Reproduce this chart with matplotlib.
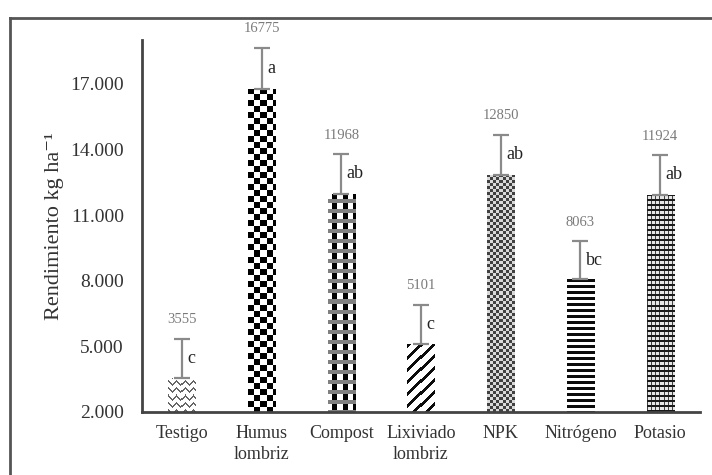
import numpy as np
import matplotlib
matplotlib.use("Agg")
import matplotlib.pyplot as plt
from matplotlib.lines import Line2D
from matplotlib.ticker import FixedLocator, FuncFormatter

categories = ["Testigo", "Humus\nlombriz", "Compost", "Lixiviado\nlombriz",
              "NPK", "Nitrógeno", "Potasio"]
yields = [3555, 16775, 11968, 5101, 12850, 8063, 11924]
errors = [1800, 1880, 1820, 1810, 1810, 1740, 1820]
groups = ["c", "a", "ab", "c", "ab", "bc", "ab"]
yticks = [2000, 5000, 8000, 11000, 14000, 17000]

plt.rcParams["font.family"] = ["Liberation Serif", "DejaVu Serif"]

fig = plt.figure(figsize=(7.12, 4.75), dpi=100)
ax = fig.add_axes([142 / 712, 63 / 475, 558 / 712, 372 / 475])
ax.set_xlim(-0.5, len(categories) - 0.5)
ax.set_ylim(2000, 19000)

x = np.arange(len(categories))
bars = ax.bar(x, np.array(yields) - 2000, bottom=2000, width=0.34,
              color="white", edgecolor="none", zorder=2)


def pattern(kind, h, w):
    r, c = np.mgrid[0:h, 0:w]
    img = np.ones((h, w))
    if kind == "waves":
        tri = np.abs((c % 8) - 4)
        img[((r + tri) % 7) < 2] = 0.4
    elif kind == "checker":
        img = ((r // 6 + c // 6) % 2).astype(float)
    elif kind == "plaid":
        img[((c % 10) >= 4) & ((c % 10) <= 8) & ((r % 10) <= 5)] = 0.0
        img[(r % 10) >= 6] = 0.5
    elif kind == "diag":
        img[((r + c) % 12) < 4] = 0.05
    elif kind == "fine":
        img = np.where(((r // 3 + c // 3) % 2) == 0, 0.25, 0.85)
    elif kind == "hlines":
        img[(r % 6) < 3] = 0.05
    elif kind == "grid":
        img[:] = 0.9
        img[(c % 4) == 0] = 0.25
        img[(r % 5) < 2] = 0.1
    return img


kinds = ["waves", "checker", "plaid", "diag", "fine", "hlines", "grid"]
fig.canvas.draw()
for bar, kind in zip(bars, kinds):
    bx0, by0 = bar.get_x(), bar.get_y()
    bx1, by1 = bx0 + bar.get_width(), by0 + bar.get_height()
    (px0, py0), (px1, py1) = ax.transData.transform([(bx0, by0), (bx1, by1)])
    w = max(int(round(px1 - px0)), 1)
    h = max(int(round(py1 - py0)), 1)
    im = ax.imshow(pattern(kind, h, w), cmap="gray", vmin=0, vmax=1,
                   extent=(bx0, bx1, by0, by1), origin="upper",
                   interpolation="nearest", aspect="auto", zorder=2.5)
    im.set_clip_path(bar)

ax.errorbar(x, yields, yerr=[np.zeros(len(errors)), errors], fmt="none",
            ecolor="#8a8a8a", elinewidth=1.6, capsize=6, capthick=1.6,
            zorder=3)

for xi, v, e, g in zip(x, yields, errors, groups):
    ax.annotate(f"{v}", (xi, v + e), xytext=(0, 9), textcoords="offset points",
                ha="center", va="bottom", fontsize=10.5, color="#7a7a7a")
    ax.annotate(g, (xi, v + e / 2), xytext=(4, 0), textcoords="offset points",
                ha="left", va="center", fontsize=13, color="#222222")

ax.yaxis.set_major_locator(FixedLocator(yticks))
ax.yaxis.set_major_formatter(FuncFormatter(lambda v, p: f"{int(v):,}".replace(",", ".")))
ax.set_xticks(x)
ax.set_xticklabels(categories, fontsize=13, linespacing=1.35)
ax.tick_params(axis="y", length=0, pad=13, labelsize=14, colors="#333333")
ax.tick_params(axis="x", length=0, pad=9, colors="#333333")
for s in ["top", "right"]:
    ax.spines[s].set_visible(False)
for s in ["left", "bottom"]:
    ax.spines[s].set_color("#444444")
    ax.spines[s].set_linewidth(2)

ax.set_ylabel("Rendimiento kg ha\u207b\u00b9", fontsize=16, color="#333333")
ax.yaxis.set_label_coords(-0.14, 0.5)

# outer frame around the chart area
fig.add_artist(Line2D([10 / 712, 1], [457 / 475, 457 / 475],
                      transform=fig.transFigure, color="#555555", lw=2))
fig.add_artist(Line2D([10 / 712, 10 / 712], [0, 457 / 475],
                      transform=fig.transFigure, color="#555555", lw=2))

fig.savefig("out.png", dpi=100)
